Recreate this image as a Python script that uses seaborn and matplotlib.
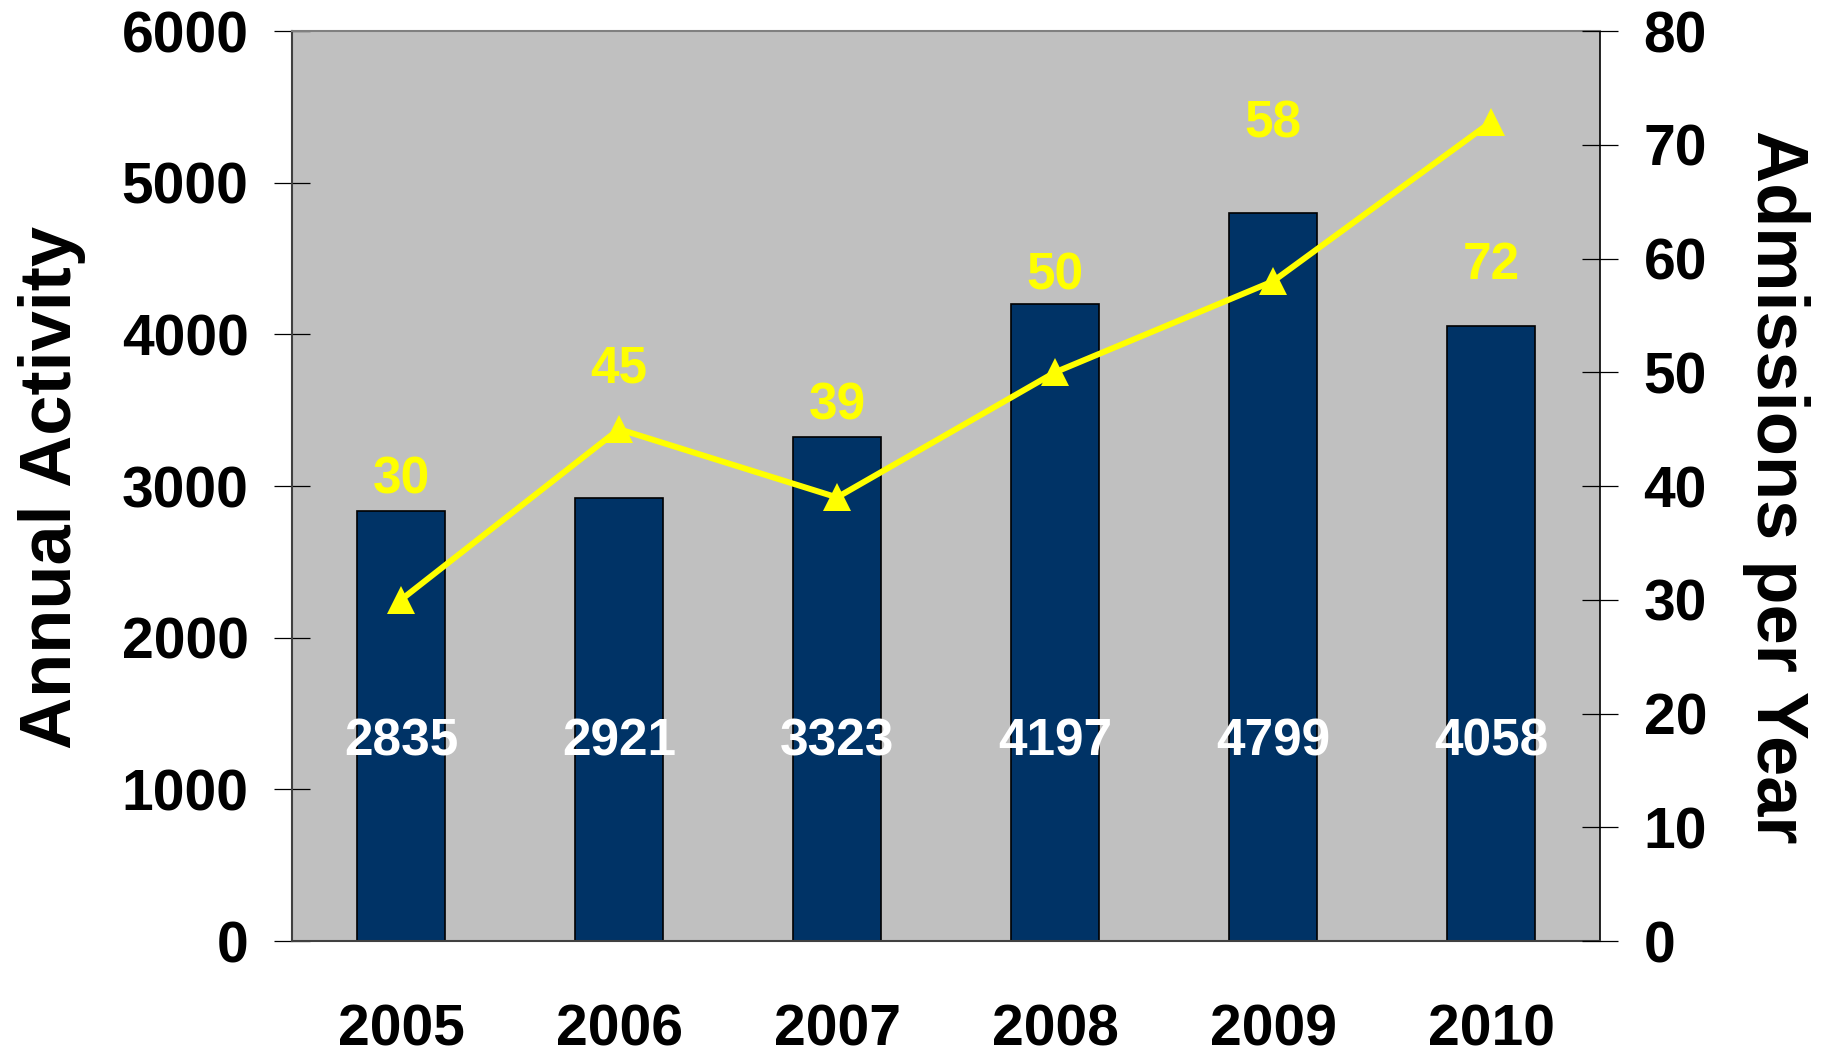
import numpy as np
import pandas as pd
import matplotlib
matplotlib.use("Agg")
import matplotlib.pyplot as plt
import seaborn as sns

# ---- data ----
years = ["2005", "2006", "2007", "2008", "2009", "2010"]
annual_activity = [2835, 2921, 3323, 4197, 4799, 4058]
admissions = [30, 45, 39, 50, 58, 72]

# ---- layout (label placement, not data) ----
adm_label_y = [40.5, 50.3, 47.0, 58.5, 71.8, 59.4]   # right-axis units
act_label_y = 1310                                  # left-axis units

sns.set_style("white")
plt.rcParams["font.family"] = ["Liberation Sans", "DejaVu Sans"]
plt.rcParams["font.weight"] = "bold"
plt.rcParams["text.color"] = "black"
plt.rcParams["axes.labelcolor"] = "black"
plt.rcParams["xtick.color"] = "black"
plt.rcParams["ytick.color"] = "black"

BAR = "#003366"
BG = "#C0C0C0"
YEL = "#FFFF00"

fig = plt.figure(figsize=(18.23, 10.52), dpi=100)
ax = fig.add_axes([0.1602, 0.1055, 0.7175, 0.865])
ax.set_facecolor(BG)

df = pd.DataFrame({"year": years, "activity": annual_activity, "adm": admissions})
sns.barplot(data=df, x="year", y="activity", color=BAR, width=0.4,
            edgecolor="black", linewidth=1.2, saturation=1, ax=ax, zorder=2)

ax.set_xlim(-0.5, len(years) - 0.5)
ax.set_ylim(0, 6000)
ax.set_yticks(np.arange(0, 6001, 1000))
ax.set_xlabel("")
ax.set_ylabel("")

for sp in ["left", "bottom"]:
    ax.spines[sp].set_color("#404040")
    ax.spines[sp].set_linewidth(1.5)
ax.spines["top"].set_color("#808080")
ax.spines["top"].set_linewidth(1.5)
ax.spines["right"].set_color("black")
ax.spines["right"].set_linewidth(1.2)

ax.tick_params(axis="y", direction="inout", length=26.6, width=0.9, pad=18,
               labelsize=41, colors="black")
ax.tick_params(axis="x", which="major", length=0, pad=45, labelsize=41,
               labelcolor="black")
ax.set_xticks(np.arange(-0.5, len(years) + 0.5, 1), minor=True)
ax.tick_params(axis="x", which="minor", direction="inout", length=26.6, width=0.9,
               color="#404040")
for lab in ax.get_xticklabels() + ax.get_yticklabels():
    lab.set_fontweight("bold")
    lab.set_color("black")

# white value labels inside bars
for i, v in enumerate(annual_activity):
    ax.text(i, act_label_y, str(v), ha="center", va="center", color="white",
            fontsize=37, fontweight="bold", zorder=5)

ax2 = ax.twinx()
sns.lineplot(x=np.arange(len(years)), y=admissions, ax=ax2, color=YEL,
             linewidth=4.3, marker="^", markersize=20, markeredgewidth=0,
             markerfacecolor=YEL, zorder=4)
ax2.set_ylim(0, 80)
ax2.set_yticks(np.arange(0, 81, 10))
ax2.set_xlim(-0.5, len(years) - 0.5)
ax2.tick_params(axis="y", direction="inout", length=26.6, width=0.9, pad=18,
                labelsize=41, colors="black")
for lab in ax2.get_yticklabels():
    lab.set_fontweight("bold")
    lab.set_color("black")
for sp in ax2.spines.values():
    sp.set_visible(False)

for i, v in enumerate(admissions):
    ax2.text(i, adm_label_y[i], str(v), ha="center", va="center", color=YEL,
             fontsize=37, fontweight="bold", zorder=6)

fig.text(0.0285, 0.537, "Annual Activity", rotation=90, ha="center", va="center",
         fontsize=52, fontweight="bold", color="black")
fig.text(0.974, 0.537, "Admissions per Year", rotation=270, ha="center", va="center",
         fontsize=52, fontweight="bold", color="black")

fig.savefig("out.png", dpi=100, facecolor="white")
